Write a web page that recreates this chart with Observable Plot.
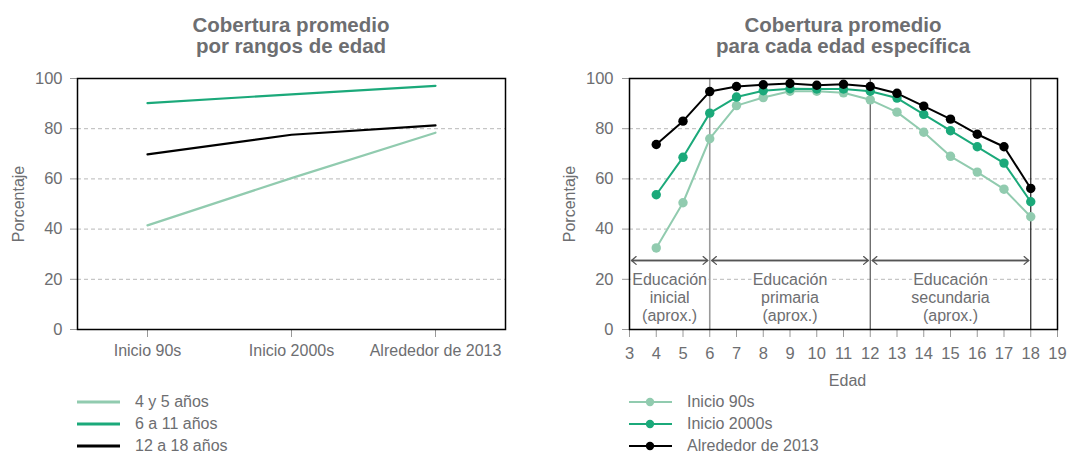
<!DOCTYPE html>
<html><head><meta charset="utf-8">
<script src="https://cdn.jsdelivr.net/npm/d3@7"></script>
<script src="https://cdn.jsdelivr.net/npm/@observablehq/plot@0.6"></script>
<style>
body{margin:0;background:#fff;font-family:"Liberation Sans",Arial,sans-serif;}
#wrap{position:relative;width:1089px;height:455px;overflow:hidden;background:#fff;}
.title{position:absolute;width:440px;text-align:center;font-weight:bold;font-size:20.5px;line-height:21px;color:#6d6e71;top:14px;}
.plot{position:absolute;top:60px;}
.legend{position:absolute;top:391px;font-size:16px;color:#6d6e71;}
.row{height:22px;display:flex;align-items:center;}
.row svg{display:block;flex:none;}
</style></head><body>
<div id="wrap">
  <div class="title" style="left:71px">Cobertura promedio<br>por rangos de edad</div>
  <div class="title" style="left:623px">Cobertura promedio<br>para cada edad específica</div>
  <div id="left" class="plot" style="left:0px"></div>
  <div id="right" class="plot" style="left:545px"></div>
  <div id="legLeft" class="legend" style="left:77px"></div>
  <div id="legRight" class="legend" style="left:629px"></div>
</div>
<script>
// ---- Left chart data ----
const periods = ["Inicio 90s", "Inicio 2000s", "Alrededor de 2013"];
const groups = ["4 y 5 años", "6 a 11 años", "12 a 18 años"];
const age4to5 = [41.5, 60.3, 78.4];
const age6to11 = [90.2, 93.7, 97.1];
const age12to18 = [69.8, 77.6, 81.3];

// ---- Right chart data ----
const ages = [4, 5, 6, 7, 8, 9, 10, 11, 12, 13, 14, 15, 16, 17, 18];
const series = ["Inicio 90s", "Inicio 2000s", "Alrededor de 2013"];
const cov90s   = [32.5, 50.5, 76.0, 89.2, 92.4, 94.9, 94.9, 94.3, 91.5, 86.6, 78.6, 69.0, 62.7, 55.9, 44.9];
const cov2000s = [53.7, 68.6, 86.2, 92.6, 95.1, 95.9, 95.8, 95.8, 94.9, 92.2, 85.7, 79.2, 72.8, 66.3, 50.9];
const cov2013  = [73.7, 83.0, 94.8, 96.8, 97.5, 98.0, 97.3, 97.7, 96.8, 94.1, 89.0, 83.8, 77.8, 72.8, 56.2];

// ---- Education stages ----
const stageLabels = ["Educación\ninicial\n(aprox.)", "Educación\nprimaria\n(aprox.)", "Educación\nsecundaria\n(aprox.)"];
const stageStart = [3, 6, 12];
const stageEnd = [6, 12, 18];

const yTicks = [0, 20, 40, 60, 80, 100];
const xTicksAge = [3, 4, 5, 6, 7, 8, 9, 10, 11, 12, 13, 14, 15, 16, 17, 18, 19];

const colors = ["#91cbaf", "#1ba97a", "#000000"];
const textColor = "#6d6e71";
const FONT = '"Liberation Sans", Arial, sans-serif';

// build tables
const leftVals = [age4to5, age6to11, age12to18];
const leftRows = [];
groups.forEach((g, gi) => periods.forEach((p, pi) => leftRows.push({group: g, period: p, value: leftVals[gi][pi]})));

const rightVals = [cov90s, cov2000s, cov2013];
const rightRows = [];
series.forEach((s, si) => ages.forEach((a, ai) => rightRows.push({series: s, age: a, value: rightVals[si][ai]})));

const stages = stageLabels.map((l, i) => ({label: l, start: stageStart[i], end: stageEnd[i], mid: (stageStart[i] + stageEnd[i]) / 2}));

const styleObj = {fontFamily: FONT, fontSize: "16px", color: textColor, background: "white", overflow: "visible"};
const ARROW_Y = 27.5;
const STAGE_TEXT_Y = 12.8;

const leftPlot = Plot.plot({
  width: 545, height: 335,
  marginTop: 18, marginBottom: 66, marginLeft: 77, marginRight: 40,
  style: styleObj,
  x: {type: "point", domain: periods, padding: 0.486},
  y: {domain: [0, 100]},
  color: {domain: groups, range: colors},
  marks: [
    Plot.ruleY(yTicks.filter(d => d > 0 && d < 100), {stroke: "#b8b8b8", strokeDasharray: "4,3"}),
    Plot.axisY({ticks: yTicks, tickSize: 7, tickPadding: 8, stroke: "#999", fill: textColor, label: null, fontSize: 16.5}),
    Plot.axisX({tickSize: 8, tickPadding: 7, stroke: "#999", fill: textColor, label: null, fontSize: 16}),
    Plot.text(["Porcentaje"], {frameAnchor: "left", dx: -59, rotate: -90, textAnchor: "middle", lineAnchor: "middle", fill: textColor, fontSize: 16}),
    Plot.frame({stroke: "black", strokeWidth: 1.5}),
    Plot.line(leftRows, {x: "period", y: "value", z: "group", stroke: "group", strokeWidth: 2.2})
  ]
});
document.getElementById("left").appendChild(leftPlot);

const rightPlot = Plot.plot({
  width: 544, height: 335,
  marginTop: 18, marginBottom: 66, marginLeft: 84, marginRight: 32,
  style: styleObj,
  x: {domain: [3, 19]},
  y: {domain: [0, 100]},
  color: {domain: series, range: colors},
  marks: [
    Plot.ruleY(yTicks.filter(d => d > 0 && d < 100), {stroke: "#b8b8b8", strokeDasharray: "4,3"}),
    Plot.axisY({ticks: yTicks, tickSize: 7, tickPadding: 9, stroke: "#999", fill: textColor, label: null, fontSize: 16.5}),
    Plot.axisX({ticks: xTicksAge, tickSize: 8, tickPadding: 10, stroke: "#999", fill: textColor, label: null, fontSize: 16.5}),
    Plot.text(["Porcentaje"], {frameAnchor: "left", dx: -60, rotate: -90, textAnchor: "middle", lineAnchor: "middle", fill: textColor, fontSize: 16}),
    Plot.text(["Edad"], {frameAnchor: "bottom", dy: 51, dx: 4, textAnchor: "middle", lineAnchor: "middle", fill: textColor, fontSize: 16}),
    Plot.text(stages, {x: "mid", y: () => STAGE_TEXT_Y, text: "label", lineHeight: 1.1, lineAnchor: "middle", fill: textColor, stroke: "white", strokeWidth: 5, fontSize: 16}),
    Plot.ruleX([stageEnd[0]], {stroke: "#9a9a9a", strokeWidth: 1.6}),
    Plot.ruleX([stageEnd[1]], {stroke: "#555", strokeWidth: 1.2}),
    Plot.ruleX([stageEnd[2]], {stroke: "#222", strokeWidth: 1.2}),
    Plot.frame({stroke: "black", strokeWidth: 1.5}),
    Plot.arrow(stages, {x1: "start", x2: "end", y1: () => ARROW_Y, y2: () => ARROW_Y, insetStart: 2, insetEnd: 2, headLength: 7, headAngle: 80, stroke: "#555", strokeWidth: 1.3}),
    Plot.arrow(stages, {x1: "end", x2: "start", y1: () => ARROW_Y, y2: () => ARROW_Y, insetStart: 2, insetEnd: 2, headLength: 7, headAngle: 80, stroke: "#555", strokeWidth: 1.3}),
    Plot.line(rightRows, {x: "age", y: "value", z: "series", stroke: "series", strokeWidth: 2}),
    Plot.dot(rightRows, {x: "age", y: "value", fill: "series", r: 4.7})
  ]
});
document.getElementById("right").appendChild(rightPlot);

// legends
function legend(el, labels, withDot) {
  const c = document.getElementById(el);
  labels.forEach((lab, i) => {
    const row = document.createElement("div");
    row.className = "row";
    const ns = "http://www.w3.org/2000/svg";
    const svg = document.createElementNS(ns, "svg");
    svg.setAttribute("width", 58); svg.setAttribute("height", 22);
    const ln = document.createElementNS(ns, "line");
    ln.setAttribute("x1", 0); ln.setAttribute("x2", 43); ln.setAttribute("y1", 11); ln.setAttribute("y2", 11);
    ln.setAttribute("stroke", colors[i]); ln.setAttribute("stroke-width", withDot ? 2.2 : 2.8);
    svg.appendChild(ln);
    if (withDot) {
      const dt = document.createElementNS(ns, "circle");
      dt.setAttribute("cx", 21); dt.setAttribute("cy", 11); dt.setAttribute("r", 4.2);
      dt.setAttribute("fill", colors[i]);
      svg.appendChild(dt);
    }
    row.appendChild(svg);
    const sp = document.createElement("span");
    sp.textContent = lab;
    row.appendChild(sp);
    c.appendChild(row);
  });
}
legend("legLeft", groups, false);
legend("legRight", series, true);
</script>
</body></html>
